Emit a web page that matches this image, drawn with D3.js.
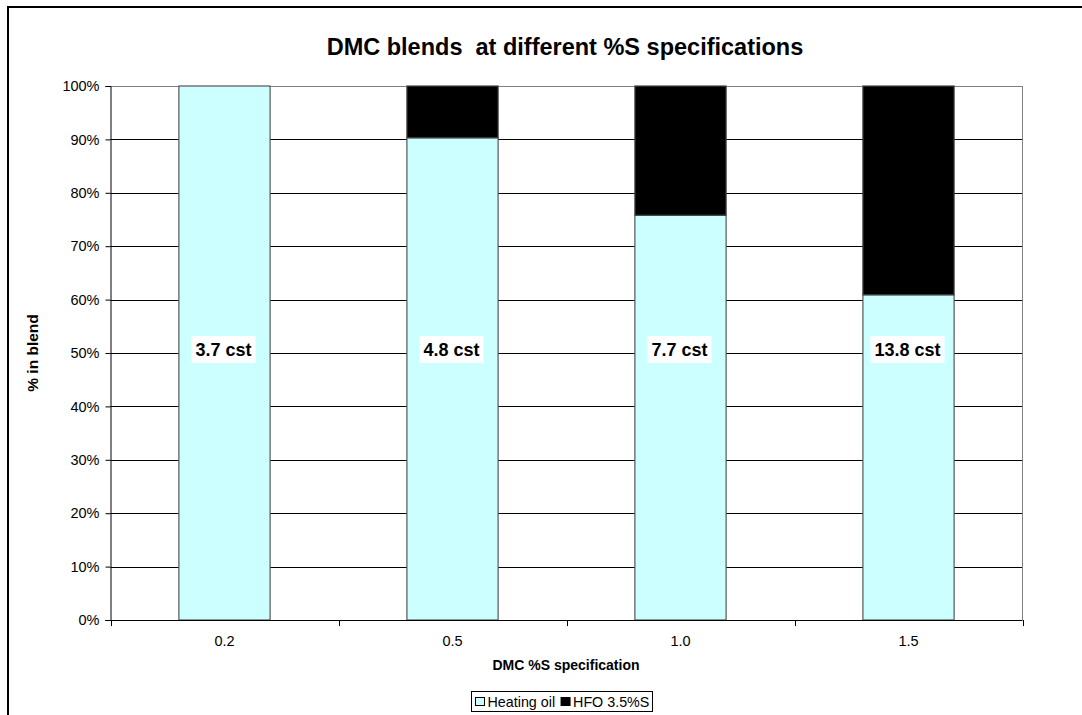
<!DOCTYPE html>
<html><head><meta charset="utf-8">
<script src="https://cdn.jsdelivr.net/npm/d3@7"></script>
<style>
html,body{margin:0;padding:0;background:#fff;}
svg{display:block;font-family:"Liberation Sans",Arial,sans-serif;}
</style></head>
<body>
<svg id="c" width="1082" height="715"></svg>
<script>
const categories = ["0.2", "0.5", "1.0", "1.5"];
const heatingOil = [100, 90.3, 75.8, 60.9];
const hfo = [0, 9.7, 24.2, 39.1];
const viscosityLabels = ["3.7 cst", "4.8 cst", "7.7 cst", "13.8 cst"];
const yTicks = [0, 10, 20, 30, 40, 50, 60, 70, 80, 90, 100];
const seriesNames = ["Heating oil", "HFO 3.5%S"];
const seriesColors = ["#ccffff", "#000000"];

const svg = d3.select("#c");
const L = 110.5, R = 1022.5, T = 86, B = 620;

// outer border
svg.append("rect").attr("x", 8).attr("y", 7).attr("width", 1100).attr("height", 760)
  .attr("fill", "none").attr("stroke", "#000").attr("stroke-width", 2);

const x = d3.scaleBand().domain(categories).range([L, R]).padding(0);
const y = d3.scaleLinear().domain([0, 100]).range([B, T]);

// gridlines
svg.append("g").selectAll("line").data(yTicks.filter(d => d > 0)).join("line")
  .attr("x1", L).attr("x2", R)
  .attr("y1", d => Math.round(y(d)) + 0.5).attr("y2", d => Math.round(y(d)) + 0.5)
  .attr("stroke", d => d === 100 ? "#808080" : "#000").attr("stroke-width", 1);
// right plot border
svg.append("line").attr("x1", R).attr("x2", R).attr("y1", T).attr("y2", B)
  .attr("stroke", "#808080");

// bars
const bw = x.bandwidth() * 0.4;
const stackData = categories.map((c, i) => ({c, a: heatingOil[i], b: hfo[i]}));
const g = svg.append("g");
stackData.forEach((d, i) => {
  const x0 = x(d.c) + (x.bandwidth() - bw) / 2;
  g.append("rect").attr("x", x0).attr("width", bw)
    .attr("y", y(d.a)).attr("height", y(0) - y(d.a))
    .attr("fill", seriesColors[0]).attr("stroke", "#555").attr("stroke-width", 1.2);
  if (d.b > 0) {
    g.append("rect").attr("x", x0).attr("width", bw)
      .attr("y", y(d.a + d.b)).attr("height", y(d.a) - y(d.a + d.b))
      .attr("fill", seriesColors[1]).attr("stroke", "#444").attr("stroke-width", 1.2);
  }
});

// bar labels
const lab = svg.append("g");
stackData.forEach((d, i) => {
  const cx = x(d.c) + x.bandwidth() / 2 - 1;
  const box = lab.append("rect");
  const t = lab.append("text").attr("x", cx).attr("y", 356)
    .attr("text-anchor", "middle").attr("font-size", 18).attr("font-weight", "bold")
    .text(viscosityLabels[i]);
  const bb = t.node().getBBox();
  box.attr("x", bb.x - 4).attr("y", 336)
    .attr("width", bb.width + 8).attr("height", 27).attr("fill", "#fff");
});

// axes
const yAxis = d3.axisLeft(y).tickValues(yTicks).tickFormat(d => d + "%").tickSize(5).tickPadding(6);
const ya = svg.append("g").attr("transform", `translate(${L},0)`).call(yAxis);
ya.select(".domain").attr("stroke", "#000");
ya.selectAll(".tick line").attr("stroke", "#000");
ya.selectAll("text").attr("font-size", 14.5).attr("fill", "#000")
  .attr("font-family", "'Liberation Sans',Arial,sans-serif");

const xa = svg.append("g").attr("transform", `translate(0,${B})`);
xa.append("line").attr("x1", L - 5).attr("x2", R).attr("y1", 0.5).attr("y2", 0.5).attr("stroke", "#000");
const boundaries = categories.map(c => x(c)).concat([R]);
xa.selectAll(".tk").data(boundaries).join("line").attr("class", "tk")
  .attr("x1", d => Math.round(d) + 0.5).attr("x2", d => Math.round(d) + 0.5)
  .attr("y1", 0).attr("y2", 6).attr("stroke", "#000");
xa.selectAll(".tl").data(categories).join("text").attr("class", "tl")
  .attr("x", d => x(d) + x.bandwidth() / 2).attr("y", 26)
  .attr("text-anchor", "middle").attr("font-size", 14.5).text(d => d);

// titles
svg.append("text").attr("x", 565).attr("y", 55).attr("text-anchor", "middle")
  .attr("font-size", 23.5).attr("font-weight", "bold").attr("xml:space", "preserve")
  .text("DMC blends  at different %S specifications");
svg.append("text").attr("x", 566).attr("y", 670).attr("text-anchor", "middle")
  .attr("font-size", 14).attr("font-weight", "bold").text("DMC %S specification");
svg.append("text").attr("transform", "translate(38,353) rotate(-90)").attr("text-anchor", "middle")
  .attr("font-size", 15.5).attr("font-weight", "bold").text("% in blend");

// legend
const lg = svg.append("g");
lg.append("rect").attr("x", 471.5).attr("y", 691.5).attr("width", 181).attr("height", 20)
  .attr("fill", "#fff").attr("stroke", "#000");
let lx = 475.5;
seriesNames.forEach((n, i) => {
  lg.append("rect").attr("x", lx).attr("y", 697.5).attr("width", 9).attr("height", 8)
    .attr("fill", seriesColors[i]).attr("stroke", "#000");
  const t = lg.append("text").attr("x", lx + 12).attr("y", 707).attr("font-size", 14.3).text(n);
  lx += 12 + t.node().getComputedTextLength() + 6;
});
</script>
</body></html>
